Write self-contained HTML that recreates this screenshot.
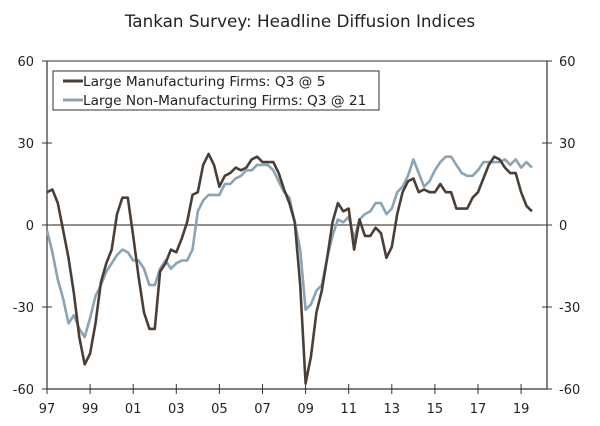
<!DOCTYPE html>
<html><head><meta charset="utf-8"><style>
body{margin:0;background:#fff;}
svg text{font-family:"DejaVu Sans","Liberation Sans",sans-serif;fill:#222;}
</style></head><body>
<svg id="chart" width="600" height="421" viewBox="0 0 600 421">
<text x="300" y="27" text-anchor="middle" font-size="16.8">Tankan Survey: Headline Diffusion Indices</text>
<g id="axes"></g>
<g id="series"></g>
<g>
<rect x="53" y="71" width="326" height="39" fill="#fff" stroke="#333" stroke-width="1"></rect>
<line x1="63" y1="81" x2="83" y2="81" stroke="#4a3f37" stroke-width="3"></line>
<text x="83" y="86" font-size="13.7">Large Manufacturing Firms: Q3 @ 5</text>
<line x1="63" y1="100" x2="83" y2="100" stroke="#8aa4b4" stroke-width="3"></line>
<text x="83" y="105" font-size="13.7">Large Non-Manufacturing Firms: Q3 @ 21</text>
</g>
</svg>
<script>
const startYear = 1997;
const yTicks = [60, 30, 0, -30, -60];
const yTickLabels = ["60", "30", "0", "-30", "-60"];
const xTickYears = [1997,1999,2001,2003,2005,2007,2009,2011,2013,2015,2017,2019];
const xTickLabels = ["97","99","01","03","05","07","09","11","13","15","17","19"];
const manufacturing = [12,13,8,-2, -12,-25,-41,-51, -47,-36,-21,-14, -9,4,10,10, -4,-19,-32,-38, -38,-17,-14,-9, -10,-5,1,11, 12,22,26,22, 14,18,19,21, 20,21,24,25, 23,23,23,19, 13,8,1,-22, -58,-48,-32,-24, -12,1,8,5, 6,-9,2,-4, -4,-1,-3,-12, -8,4,12,16, 17,12,13,12, 12,15,12,12, 6,6,6,10, 12,17,22,25, 24,21,19,19, 12,7,5];
const nonManufacturing = [-2,-10,-20,-27, -36,-33,-38,-41, -34,-26,-22,-17, -14,-11,-9,-10, -13,-13,-16,-22, -22,-16,-13,-16, -14,-13,-13,-9, 5,9,11,11, 11,15,15,17, 18,20,20,22, 22,22,20,16, 12,10,1,-9, -31,-29,-24,-22, -12,-4,2,1, 3,-5,2,4, 5,8,8,4, 6,12,14,18, 24,19,14,16, 20,23,25,25, 22,19,18,18, 20,23,23,23, 23,24,22,24, 21,23,21];

const X0=47, X1=547, PXY=21.55, Y0=225, PXV=164/60;
const xs = yr => X0 + (yr-startYear)*PXY;
const ys = v => Y0 - v*PXV;
const NS="http://www.w3.org/2000/svg";
const axes=document.getElementById('axes'), series=document.getElementById('series');
function mk(tag, attrs, parent){const e=document.createElementNS(NS,tag);for(const k in attrs)e.setAttribute(k,attrs[k]);parent.appendChild(e);return e;}
let e;
e=mk('line',{x1:X0,y1:ys(60),x2:X0,y2:ys(-60),stroke:'#333','stroke-width':1.2},axes);


e=mk('line',{x1:X1,y1:ys(60),x2:X1,y2:ys(-60),stroke:'#333','stroke-width':1.2},axes);


e=mk('line',{x1:X0,y1:ys(60),x2:X1,y2:ys(60),stroke:'#333','stroke-width':1},axes);


e=mk('line',{x1:X0,y1:ys(-60),x2:X1,y2:ys(-60),stroke:'#333','stroke-width':1.2},axes);


e=mk('line',{x1:X0,y1:ys(0),x2:X1,y2:ys(0),stroke:'#222','stroke-width':1},axes);


yTicks.forEach((v,i)=>{
  mk('line',{x1:X0-5,y1:ys(v),x2:X0+5,y2:ys(v),stroke:'#333'},axes);
  mk('line',{x1:X1-5,y1:ys(v),x2:X1+5,y2:ys(v),stroke:'#333'},axes);
  let t=mk('text',{x:34,y:ys(v)+5,'text-anchor':'end','font-size':13},axes);t.textContent=yTickLabels[i];
  
  
  let t2=mk('text',{x:559,y:ys(v)+5,'text-anchor':'start','font-size':13},axes);t2.textContent=yTickLabels[i];
  
  
});
xTickYears.forEach((yr,i)=>{
  mk('line',{x1:xs(yr),y1:ys(-60)-5,x2:xs(yr),y2:ys(-60)+5,stroke:'#333'},axes);
  let t=mk('text',{x:xs(yr),y:413,'text-anchor':'middle','font-size':13},axes);t.textContent=xTickLabels[i];
  
  
});
function line(data,color,name){
  const pts=data.map((v,i)=>xs(startYear+i*0.25).toFixed(1)+','+ys(v).toFixed(1)).join(' ');
  const p=mk('polyline',{points:pts,fill:'none',stroke:color,'stroke-width':2.6,'stroke-linejoin':'round'},series);
  
  
}
line(nonManufacturing,'#8aa4b4','non-manufacturing-line');
line(manufacturing,'#4a3f37','manufacturing-line');
</script>
</body></html>
